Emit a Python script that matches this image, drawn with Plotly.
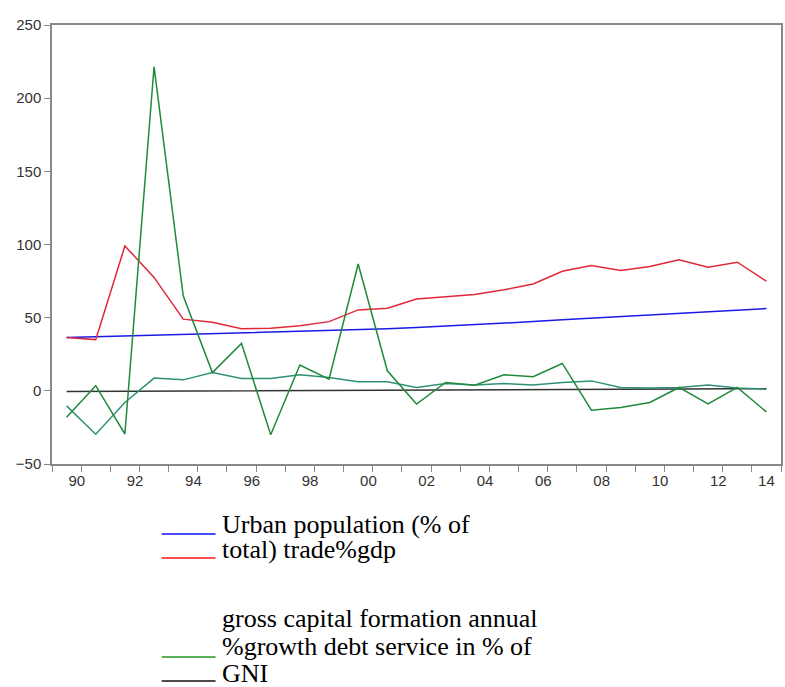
import plotly.graph_objects as go

years = list(range(1990, 2015))
tick_years = list(range(1990, 2015, 2))
tick_labels = ["90", "92", "94", "96", "98", "00", "02", "04", "06", "08", "10", "12", "14"]

urban_pop = [36.4, 36.9, 37.4, 38.0, 38.5, 39.0, 39.6, 40.1, 40.7, 41.2, 41.8, 42.4, 43.2,
             44.1, 45.1, 46.2, 47.3, 48.5, 49.6, 50.7, 51.8, 52.9, 54.0, 55.1, 56.2]
trade_gdp = [36.5, 35.0, 99.0, 77.5, 49.0, 46.8, 42.5, 42.8, 44.5, 47.3, 55.3, 56.4, 62.8,
             64.4, 65.8, 69.0, 73.0, 81.7, 85.6, 82.2, 85.0, 89.5, 84.5, 87.9, 74.9]
gcf_growth = [-18.0, 3.5, -29.5, 221.5, 65.0, 12.5, 32.4, -30.0, 17.6, 8.0, 86.7, 13.7, -9.0,
              5.7, 3.9, 11.0, 9.6, 18.7, -13.2, -11.4, -8.0, 2.3, -9.0, 2.3, -14.4]
debt_service = [-10.3, -29.7, -8.0, 8.7, 7.5, 12.5, 8.4, 8.4, 11.0, 9.1, 6.2, 6.2, 2.3,
                5.0, 4.0, 5.0, 4.0, 5.7, 6.8, 2.3, 2.0, 2.3, 4.0, 2.0, 1.1]
gni = [-0.5, -0.4, -0.3, -0.2, -0.1, 0.0, 0.0, 0.1, 0.2, 0.2, 0.3, 0.4, 0.5,
       0.5, 0.6, 0.7, 0.8, 0.8, 0.9, 1.0, 1.1, 1.2, 1.3, 1.4, 1.4]

series = [
    (urban_pop, "#1a1ae6"),
    (trade_gdp, "#e0283a"),
    (gni, "#333333"),
    (debt_service, "#2f8f7a"),
    (gcf_growth, "#1f8a3a"),
]

fig = go.Figure()
for vals, col in series:
    fig.add_trace(go.Scatter(x=years, y=vals, mode="lines",
                             line=dict(color=col, width=1.5), showlegend=False))
# invisible trace so the label axis gets drawn
fig.add_trace(go.Scatter(x=[years[0]], y=[None], xaxis="x2", showlegend=False,
                         hoverinfo="skip"))

# plot area in pixels: x 52..783, y 25..464
L, R, T, B = 52, 783, 25, 464
def px(x):
    return (x - L) / (R - L)
def py(y):
    return (B - y) / (B - T)

legend_lines = [(534, "#1010ff"), (558, "#ff1010"), (657, "#239a23"), (681, "#111111")]
shapes = []
for y, col in legend_lines:
    shapes.append(dict(type="line", xref="paper", yref="paper",
                       x0=px(162), x1=px(216), y0=py(y), y1=py(y),
                       line=dict(color=col, width=1.5)))

legend_text = [
    (533, "Urban population (% of"),
    (558, "total) trade%gdp"),
    (627, "gross capital formation annual"),
    (655, "%growth debt service in % of"),
    (682, "GNI"),
]
annotations = []
for base, txt in legend_text:
    annotations.append(dict(xref="paper", yref="paper", x=px(220), y=py(base - 9),
                            xanchor="left", yanchor="middle", showarrow=False, text=txt,
                            font=dict(family="Liberation Serif", size=26, color="#000000")))

# EViews-style labels start at the observation, so centre them a bit to the right
label_pos = [y + 0.35 for y in tick_years[:-1]] + [tick_years[-1]]
# tick marks sit on the boundaries between years
tick_marks = [y - 0.5 for y in years] + [years[-1] + 0.5]
xrange = [1989.5, 2014.5]

fig.update_layout(
    width=785, height=687,
    margin=dict(l=L, r=785 - R, t=T, b=687 - B),
    plot_bgcolor="white", paper_bgcolor="white",
    font=dict(family="Liberation Sans, Arial, sans-serif", size=15, color="#333333"),
    shapes=shapes, annotations=annotations,
    xaxis=dict(range=xrange, tickvals=tick_marks, ticktext=[""] * len(tick_marks),
               ticks="outside", ticklen=6, tickcolor="#888888", tickwidth=1,
               showgrid=False, zeroline=False,
               showline=True, linecolor="#888888", linewidth=1.5, mirror=True),
    xaxis2=dict(range=xrange, overlaying="x", side="bottom", tickvals=label_pos,
                ticktext=tick_labels, ticks="", showgrid=False, zeroline=False,
                showline=False, ticklabelstandoff=6),
    yaxis=dict(range=[-50, 250], tickvals=[-50, 0, 50, 100, 150, 200, 250],
               ticks="outside", ticklen=6, tickcolor="#888888", showgrid=False, zeroline=False,
               showline=True, linecolor="#888888", linewidth=1.5, mirror=True,
               ticklabelstandoff=0),
)

fig.write_html("out.html", config={"displayModeBar": False},
               post_script="document.body.style.margin='0';document.body.style.overflow='hidden';")
